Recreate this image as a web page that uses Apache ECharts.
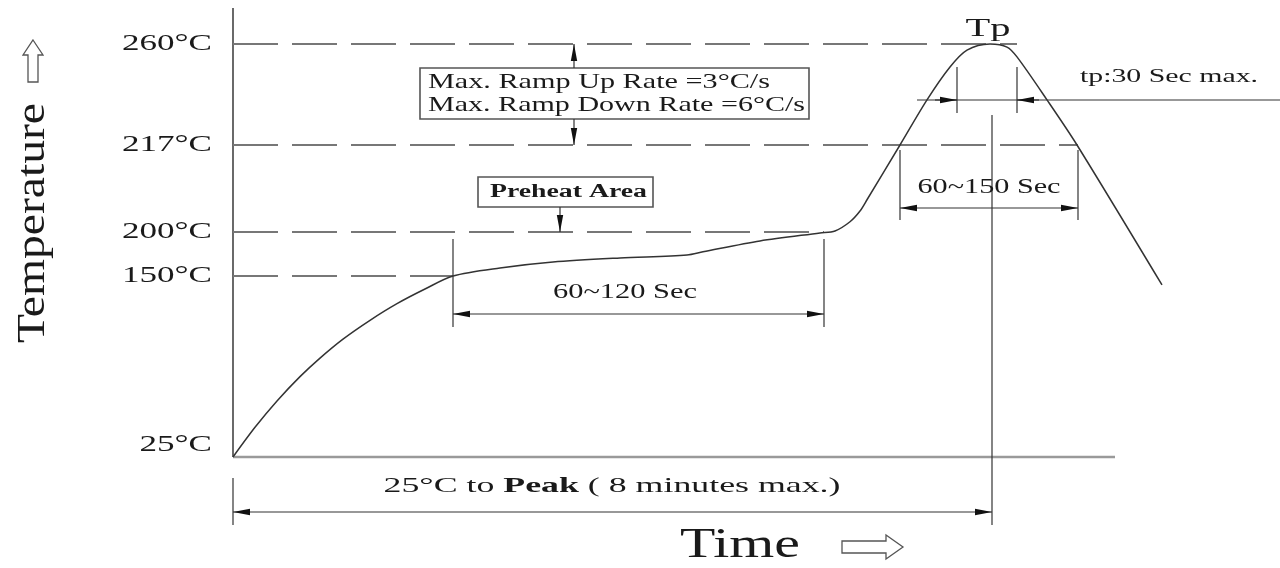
<!DOCTYPE html>
<html>
<head>
<meta charset="utf-8">
<script src="https://cdn.jsdelivr.net/npm/echarts@6/dist/echarts.min.js"></script>
<style>
html, body { margin: 0; padding: 0; background: #fff; }
#main { width: 1280px; height: 568px; }
</style>
</head>
<body>
<div id="main"></div>
<script>
var chartDom = document.getElementById('main');
var myChart = echarts.init(chartDom);

// reflow profile (time in schematic units, temperature in °C)
let curveTime = [0, 8.8, 17.6, 26.8, 34.8, 44, 54.8, 65.6, 76.8, 88, 106.8, 128, 154.8, 181.6, 188, 210.8, 234.8, 240.8, 246.8, 250.8, 253.6, 266.8, 277.6, 286.8, 293.6, 302.8, 309.6, 313.6, 325.6, 337.6, 371.6];
let curveTemp = [25, 45.5, 63.7, 80.5, 93.3, 106.4, 119.4, 130.9, 141, 150, 159.1, 165.9, 170.5, 173.9, 177.5, 189.8, 198.9, 200.2, 202, 204.1, 206.3, 217, 236.2, 250.2, 257.4, 260, 258.7, 254.5, 236.2, 217, 143.8];

// temperature axis (schematic, not to scale)
let tempTicks = [25, 150, 200, 217, 260];
let tickLabels = ['25°C', '150°C', '200°C', '217°C', '260°C'];
let tickLevels = [0, 181, 225, 312, 413];

// dashed guide lines: temperature and where they stop (time)
let guideTemps = [150, 200, 217, 260];
let guideEnds = [88, 236.4, 338, 313.6];

let peakTime = 303.6;
let baseEnd = 352.8;

const SERIF = '"Liberation Serif", "Times New Roman", serif';

function tempToLevel(v) {
  for (var i = 0; i < tempTicks.length - 1; i++) {
    if (v <= tempTicks[i + 1] || i === tempTicks.length - 2) {
      return tickLevels[i] + (v - tempTicks[i]) * (tickLevels[i + 1] - tickLevels[i]) / (tempTicks[i + 1] - tempTicks[i]);
    }
  }
}

var measureCtx = document.createElement('canvas').getContext('2d');
function textWidth(str, size, weight) {
  measureCtx.font = (weight || 'normal') + ' ' + size + 'px ' + SERIF;
  return measureCtx.measureText(str).width;
}

// annotation shapes, in axis units (time, level)
let shapes = [];
shapes.push({ kind: 'axis', p: [0, 0, 0, 449] });
shapes.push({ kind: 'base', p: [0, 0, baseEnd, 0] });
for (var i = 0; i < guideTemps.length; i++) {
  var lv = tempToLevel(guideTemps[i]);
  shapes.push({ kind: 'dash', p: [0, lv, guideEnds[i], lv] });
}
// ramp rate box + arrows
shapes.push({ kind: 'rect', p: [74.8, 338, 230.4, 389] });
shapes.push({ kind: 'arrow', p: [136.4, 389, 136.4, 413] });
shapes.push({ kind: 'arrow', p: [136.4, 338, 136.4, 312] });
// preheat box + arrow
shapes.push({ kind: 'rect', p: [98, 250, 168, 280] });
shapes.push({ kind: 'arrow', p: [130.8, 250, 130.8, 225] });
// 60~120 sec
shapes.push({ kind: 'thin', p: [88, 218, 88, 130] });
shapes.push({ kind: 'thin', p: [236.4, 218, 236.4, 130] });
shapes.push({ kind: 'dim', p: [88, 143, 236.4, 143] });
// 60~150 sec
shapes.push({ kind: 'thin', p: [266.8, 307, 266.8, 237] });
shapes.push({ kind: 'thin', p: [338, 307, 338, 237] });
shapes.push({ kind: 'dim', p: [266.8, 249, 338, 249] });
// peak line and 25°C to peak
shapes.push({ kind: 'thin', p: [peakTime, 342, peakTime, -68] });
shapes.push({ kind: 'thin', p: [0, -21, 0, -68] });
shapes.push({ kind: 'dim', p: [0, -55, peakTime, -55] });
// tp 30 sec
shapes.push({ kind: 'thin', p: [273.6, 357, 418.8, 357] });
shapes.push({ kind: 'thin', p: [289.6, 390, 289.6, 344] });
shapes.push({ kind: 'thin', p: [313.6, 390, 313.6, 344] });
shapes.push({ kind: 'arrow', p: [280.8, 357, 289.6, 357] });
shapes.push({ kind: 'arrow', p: [322.4, 357, 313.6, 357] });

let notes = [
  { t: 302, l: 428, text: 'Tp', size: 26, w: 45, align: 'center' },
  { t: 338.8, l: 380, text: 'tp:30 Sec max.', size: 19, w: 178, align: 'left' },
  { t: 78, l: 375, text: 'Max. Ramp Up Rate =3°C/s', size: 21, w: 342, align: 'left' },
  { t: 78, l: 352, text: 'Max. Ramp Down Rate =6°C/s', size: 21, w: 377, align: 'left' },
  { t: 134.2, l: 265, text: 'Preheat Area', size: 18, w: 157, align: 'center', weight: 'bold' },
  { t: 156.8, l: 165, text: '60~120 Sec', size: 21, w: 144, align: 'center' },
  { t: 302.4, l: 270, text: '60~150 Sec', size: 21, w: 143, align: 'center' },
  { t: 151.6, l: -29, parts: ['25°C to ', 'Peak', ' ( 8 minutes max.)'], size: 22, w: 457, align: 'center' }
];

function arrowHead(tip, from) {
  var dx = tip[0] - from[0], dy = tip[1] - from[1];
  var len = Math.sqrt(dx * dx + dy * dy) || 1;
  var ux = dx / len, uy = dy / len;
  var L = 17, W = 3.2;
  var bx = tip[0] - ux * L, by = tip[1] - uy * L;
  return {
    type: 'polygon',
    shape: { points: [tip, [bx - uy * W, by + ux * W], [bx + uy * W, by - ux * W]] },
    style: { fill: '#111' }
  };
}

function renderShape(params, api) {
  var s = shapes[params.dataIndex];
  var a = api.coord([s.p[0], s.p[1]]);
  var b = api.coord([s.p[2], s.p[3]]);
  if (s.kind === 'rect') {
    return {
      type: 'rect',
      shape: { x: Math.min(a[0], b[0]), y: Math.min(a[1], b[1]), width: Math.abs(b[0] - a[0]), height: Math.abs(b[1] - a[1]) },
      style: { fill: '#fff', stroke: '#555', lineWidth: 1.6 }
    };
  }
  var style = { stroke: '#333', lineWidth: 1.2 };
  if (s.kind === 'axis') style = { stroke: '#444', lineWidth: 1.6 };
  if (s.kind === 'base') style = { stroke: '#9a9a9a', lineWidth: 2.5 };
  if (s.kind === 'dash') style = { stroke: '#777', lineWidth: 1.8, lineDash: [45, 14] };
  var children = [{ type: 'line', shape: { x1: a[0], y1: a[1], x2: b[0], y2: b[1] }, style: style }];
  if (s.kind === 'arrow') children.push(arrowHead(b, a));
  if (s.kind === 'dim') {
    children.push(arrowHead(a, b));
    children.push(arrowHead(b, a));
  }
  return { type: 'group', children: children };
}

function renderNote(params, api) {
  var n = notes[params.dataIndex];
  var c = api.coord([n.t, n.l]);
  var style = { fill: '#1a1a1a', align: n.align, verticalAlign: 'middle', fontFamily: SERIF, fontSize: n.size };
  var w;
  if (n.parts) {
    w = textWidth(n.parts[0], n.size) + textWidth(n.parts[1], n.size, 'bold') + textWidth(n.parts[2], n.size);
    style.text = '{n|' + n.parts[0] + '}{b|' + n.parts[1] + '}{n|' + n.parts[2] + '}';
    style.rich = {
      n: { fontFamily: SERIF, fontSize: n.size, fill: '#1a1a1a' },
      b: { fontFamily: SERIF, fontSize: n.size, fontWeight: 'bold', fill: '#1a1a1a' }
    };
  } else {
    w = textWidth(n.text, n.size, n.weight);
    style.text = n.text;
    if (n.weight) style.fontWeight = n.weight;
  }
  return { type: 'text', x: c[0], y: c[1], scaleX: n.w / w, style: style };
}

var tickScale = 90 / textWidth('260°C', 24);
function renderTick(params, api) {
  var c = api.coord([0, api.value(1)]);
  var dy = params.dataIndex === 0 ? -12 : 0;
  return {
    type: 'text', x: c[0] - 21, y: c[1] + dy, scaleX: tickScale,
    style: { text: tickLabels[params.dataIndex], fill: '#1a1a1a', align: 'right', verticalAlign: 'middle', fontFamily: SERIF, fontSize: 24 }
  };
}

var option = {
  animation: false,
  backgroundColor: '#fff',
  grid: { left: 233, right: 0, top: 0, bottom: 0 },
  xAxis: { type: 'value', min: 0, max: 418.8, show: false },
  yAxis: { type: 'value', min: -111, max: 457, show: false },
  graphic: [
    {
      type: 'text', x: 33, y: 223, rotation: Math.PI / 2,
      scaleX: 240 / textWidth('Temperature', 40),
      style: { text: 'Temperature', fontFamily: SERIF, fontSize: 40, fill: '#1a1a1a', align: 'center', verticalAlign: 'middle' }
    },
    {
      type: 'polygon',
      shape: { points: [[33, 40], [43, 55], [38, 55], [38, 82], [28, 82], [28, 55], [23, 55]] },
      style: { fill: '#fff', stroke: '#555', lineWidth: 1.3 }
    },
    {
      type: 'text', x: 740, y: 546,
      scaleX: 120 / textWidth('Time', 42),
      style: { text: 'Time', fontFamily: SERIF, fontSize: 42, fill: '#1a1a1a', align: 'center', verticalAlign: 'middle' }
    },
    {
      type: 'polygon',
      shape: { points: [[842, 541], [886, 541], [886, 535], [903, 547], [886, 559], [886, 553], [842, 553]] },
      style: { fill: '#fff', stroke: '#555', lineWidth: 1.3 }
    }
  ],
  series: [
    {
      type: 'custom',
      renderItem: renderShape,
      data: shapes.map(function (s) { return [s.p[0], s.p[1]]; }),
      clip: false,
      silent: true,
      z: 2
    },
    {
      type: 'line',
      data: curveTime.map(function (t, i) { return [t, tempToLevel(curveTemp[i])]; }),
      showSymbol: false,
      smooth: 0.3,
      lineStyle: { color: '#333', width: 1.5 },
      silent: true,
      z: 3
    },
    {
      type: 'custom',
      renderItem: renderNote,
      data: notes.map(function (n) { return [n.t, n.l]; }),
      clip: false,
      silent: true,
      z: 4
    },
    {
      type: 'custom',
      renderItem: renderTick,
      data: tempTicks.map(function (v) { return [0, tempToLevel(v)]; }),
      clip: false,
      silent: true,
      z: 4
    }
  ]
};

option && myChart.setOption(option);
</script>
</body>
</html>
